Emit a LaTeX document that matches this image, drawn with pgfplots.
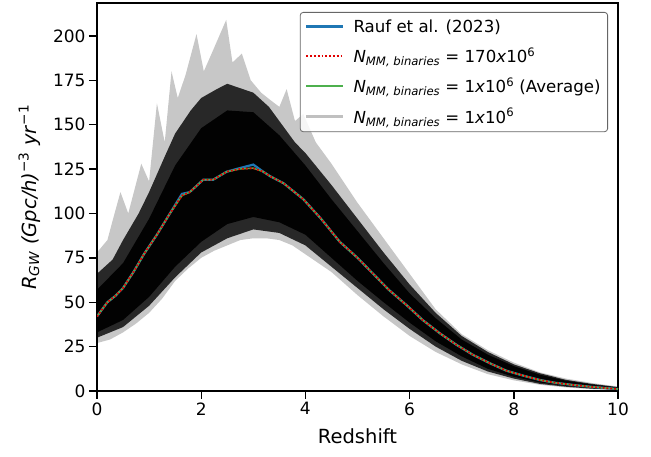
\documentclass[border=0pt]{standalone}
\usepackage{fontspec}
\setmainfont{DejaVu Sans}
\usepackage{pgfplots}
\pgfplotsset{compat=1.18}
\usepgfplotslibrary{fillbetween}
\definecolor{tabblue}{HTML}{1F77B4}
\definecolor{tabgreenl}{HTML}{4DB04D}
\definecolor{dotred}{HTML}{E00000}
\definecolor{lgray}{HTML}{C0C0C0}
\begin{document}
\begin{tikzpicture}
\begin{axis}[
  scale only axis, width=521pt, height=388pt,
  xmin=0, xmax=10, ymin=0, ymax=218.5,
  xtick={0,2,4,6,8,10}, ytick={0,25,50,75,100,125,150,175,200},
  tick align=outside, major tick length=8pt,
  every tick/.style={line width=1.4pt, black},
  axis line style={line width=1.4pt},
  xtick pos=bottom, ytick pos=left,
  /pgf/number format/assume math mode=true,
  tick label style={font=\fontsize{17}{20}\selectfont},
  label style={font=\fontsize{19.5}{23}\selectfont},
  xlabel={Redshift},
  ylabel={\textit{R}\textsubscript{\textit{GW}} \textit{(Gpc/h)}\textsuperscript{−3} \textit{yr}\textsuperscript{−1}},
  xlabel style={yshift=-6pt},
  ylabel style={yshift=6pt},
  legend cell align=left,
  legend style={at={(1,1)}, anchor=north east, xshift=-10pt, yshift=-9pt,
    draw=black!60, line width=0.8pt, rounded corners=3pt, fill=white, fill opacity=0.85, text opacity=1,
    font=\fontsize{16.6}{20}\selectfont, row sep=10pt, inner sep=5pt},
  legend image code/.code={\draw[#1] (0cm,0cm) -- (1.3cm,0cm); \path (1.55cm,0cm);},
]
% outer envelope of realisations
\addplot[name path=oa, draw=none, forget plot] coordinates {
(0,78) (0.2,85) (0.3,96) (0.45,112) (0.6,100) (0.85,128) (1.0,118) (1.15,162) (1.3,140) (1.43,180) (1.55,165) (1.7,178) (1.91,201) (2.05,180) (2.2,190) (2.48,209) (2.6,185) (2.78,190) (2.95,175) (3.15,168) (3.32,164) (3.5,160) (3.64,170) (3.8,152) (3.96,156) (4.2,140) (4.5,128) (5.0,106) (5.5,86) (6.0,66) (6.5,46) (7.0,32) (7.5,23) (8.0,16) (8.5,10.5) (9.0,7) (9.5,4.5) (10,2.5)};
\addplot[name path=ob, draw=none, forget plot] coordinates {
(0,27) (0.25,29) (0.5,33) (0.75,38) (1.0,44) (1.25,52) (1.5,62) (1.75,69) (2.0,75) (2.25,79) (2.5,82) (2.75,85) (3.0,86) (3.25,86) (3.5,85) (3.75,82) (4.0,77) (4.5,67) (5.0,54) (5.5,42) (6.0,31) (6.5,22) (7.0,15) (7.5,9.5) (8.0,6) (8.5,3.5) (9.0,2) (9.5,1) (10,0.5)};
\addplot[black, fill opacity=0.22, forget plot] fill between[of=oa and ob];
% medium density
\addplot[name path=ma, draw=none, forget plot] coordinates {
(0,66) (0.3,74) (0.5,85) (0.8,100) (1.0,112) (1.3,132) (1.5,145) (1.8,158) (2.0,165) (2.3,170) (2.5,173) (2.8,170) (3.0,168) (3.3,160) (3.5,152) (3.8,140) (4.0,134) (4.5,116) (5.0,97) (5.5,78) (6.0,60) (6.5,44) (7.0,31) (7.5,22) (8.0,15) (8.5,10) (9.0,6.3) (9.5,4) (10,2.2)};
\addplot[name path=mb, draw=none, forget plot] coordinates {
(0,30) (0.5,36) (1.0,48) (1.5,64) (2.0,78) (2.5,86) (3.0,91) (3.5,89) (4.0,82) (4.5,70) (5.0,58) (5.5,46) (6.0,35) (6.5,25) (7.0,17) (7.5,11) (8.0,7) (8.5,4) (9.0,2.4) (9.5,1.3) (10,0.7)};
\addplot[black, fill opacity=0.8, forget plot] fill between[of=ma and mb];
% dense core
\addplot[name path=da, draw=none, forget plot] coordinates {
(0,57) (0.5,72) (1.0,97) (1.5,127) (2.0,148) (2.5,158) (3.0,157) (3.5,144) (4.0,127) (4.5,108) (5.0,90) (5.5,72) (6.0,55) (6.5,41) (7.0,29) (7.5,20.5) (8.0,14) (8.5,9.2) (9.0,5.8) (9.5,3.6) (10,1.9)};
\addplot[name path=db, draw=none, forget plot] coordinates {
(0,33) (0.5,40) (1.0,53) (1.5,70) (2.0,84) (2.5,94) (3.0,98) (3.5,95) (4.0,88) (4.5,75) (5.0,62) (5.5,50) (6.0,38.5) (6.5,28) (7.0,19.5) (7.5,12.5) (8.0,8) (8.5,4.8) (9.0,2.9) (9.5,1.6) (10,0.9)};
\addplot[black, fill opacity=0.95, forget plot] fill between[of=da and db];
% curves
\addplot[tabblue, line width=2.2pt] coordinates {
(0,42) (0.1,46) (0.2,50) (0.35,53.5) (0.5,58) (0.7,67) (0.9,77) (1.15,88) (1.4,100) (1.63,111) (1.78,112) (2.04,119) (2.23,119) (2.49,123.5) (2.74,125.5) (3.0,127.5) (3.19,123.5) (3.32,121) (3.58,117) (3.96,108) (4.3,97) (4.66,84) (5.0,75) (5.3,66) (5.6,57) (5.94,48.4) (6.25,40) (6.58,32.5) (6.9,26) (7.22,20.3) (7.55,15.5) (7.86,11.4) (8.2,8.5) (8.5,6.2) (8.8,4.6) (9.14,3.4) (9.5,2.3) (10,1.1)};
\addlegendentry{Rauf et al. (2023)}
\addplot[color=tabgreenl, line width=1.5pt, forget plot] coordinates {
(0,42) (0.1,46) (0.2,50) (0.35,53.5) (0.5,58) (0.7,67) (0.9,77) (1.15,88) (1.4,100) (1.63,110) (1.78,112) (2.04,119) (2.23,119) (2.49,123.5) (2.74,125) (3.0,125.5) (3.19,123.5) (3.32,121) (3.58,117) (3.96,108) (4.3,97) (4.66,84) (5.0,75) (5.3,66) (5.6,57) (5.94,48.4) (6.25,40) (6.58,32.5) (6.9,26) (7.22,20.3) (7.55,15.5) (7.86,11.4) (8.2,8.5) (8.5,6.2) (8.8,4.6) (9.14,3.4) (9.5,2.3) (10,1.1)};
\addplot[color=dotred, line width=1.8pt, dotted] coordinates {
(0,42) (0.1,46) (0.2,50) (0.35,53.5) (0.5,58) (0.7,67) (0.9,77) (1.15,88) (1.4,100) (1.63,110) (1.78,112) (2.04,119) (2.23,119) (2.49,123.5) (2.74,125) (3.0,125.5) (3.19,123.5) (3.32,121) (3.58,117) (3.96,108) (4.3,97) (4.66,84) (5.0,75) (5.3,66) (5.6,57) (5.94,48.4) (6.25,40) (6.58,32.5) (6.9,26) (7.22,20.3) (7.55,15.5) (7.86,11.4) (8.2,8.5) (8.5,6.2) (8.8,4.6) (9.14,3.4) (9.5,2.3) (10,1.1)};
\addlegendentry{\textit{N}\textsubscript{\textit{MM, binaries}} = 170\textit{x}10\textsuperscript{6}}
\addlegendimage{color=tabgreenl, line width=1.5pt}
\addlegendentry{\textit{N}\textsubscript{\textit{MM, binaries}} = 1\textit{x}10\textsuperscript{6} (Average)}
\addlegendimage{color=lgray, line width=2.2pt}
\addlegendentry{\textit{N}\textsubscript{\textit{MM, binaries}} = 1\textit{x}10\textsuperscript{6}}
\end{axis}
\useasboundingbox (current axis.south west) ++(-97pt,-66pt) rectangle ([shift={(33pt,3pt)}]current axis.north east);
\end{tikzpicture}
\end{document}
